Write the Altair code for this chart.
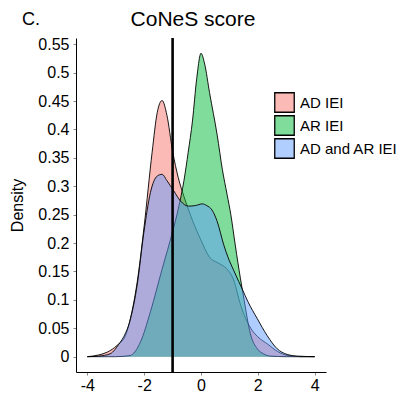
import altair as alt
import pandas as pd

FONT = "Liberation Sans"

groups = ["AD IEI", "AR IEI", "AD and AR IEI"]
base_colors = ["#F8766D", "#00BA38", "#619CFF"]
legend_colors = ["#FBBAB6", "#7FDC9B", "#B0CEFF"]

ad_x = [-4.0, -3.6, -3.3, -2.95, -2.66, -2.48, -2.25, -2.0, -1.72, -1.54, -1.37, -1.2, -1.0, -0.8, -0.6, -0.3, 0.0, 0.3, 0.6, 0.9, 1.15, 1.4, 1.75, 2.0, 2.35, 2.7, 3.05, 3.5, 4.0]
ad_y = [0.0, 0.003, 0.008, 0.02, 0.037, 0.068, 0.13, 0.23, 0.36, 0.43, 0.451, 0.425, 0.362, 0.315, 0.282, 0.24, 0.205, 0.175, 0.165, 0.155, 0.135, 0.09, 0.05, 0.035, 0.022, 0.009, 0.002, 0.0, 0.0]

ar_x = [-4.0, -3.0, -2.5, -2.13, -1.78, -1.37, -1.0, -0.8, -0.6, -0.45, -0.3, -0.15, 0.0, 0.13, 0.3, 0.57, 0.75, 0.92, 1.05, 1.21, 1.39, 1.5, 1.74, 1.98, 2.2, 2.45, 3.0, 4.0]
ar_y = [0.0, 0.0, 0.002, 0.026, 0.079, 0.154, 0.22, 0.26, 0.31, 0.36, 0.415, 0.49, 0.534, 0.515, 0.465, 0.39, 0.33, 0.285, 0.25, 0.195, 0.137, 0.105, 0.04, 0.014, 0.005, 0.001, 0.0, 0.0]

both_x = [-4.0, -3.6, -3.2, -2.85, -2.72, -2.48, -2.25, -2.01, -1.78, -1.54, -1.37, -1.2, -0.96, -0.72, -0.44, -0.2, 0.05, 0.2, 0.39, 0.57, 0.8, 0.95, 1.15, 1.33, 1.46, 1.65, 1.98, 2.33, 2.68, 3.03, 3.4, 4.0]
both_y = [0.0, 0.001, 0.005, 0.025, 0.035, 0.067, 0.125, 0.219, 0.289, 0.318, 0.321, 0.31, 0.292, 0.274, 0.265, 0.266, 0.269, 0.266, 0.258, 0.238, 0.197, 0.175, 0.152, 0.132, 0.118, 0.097, 0.067, 0.037, 0.014, 0.004, 0.001, 0.0]

x_ticks = [-4, -2, 0, 2, 4]
y_ticks = [0, 0.05, 0.1, 0.15, 0.2, 0.25, 0.3, 0.35, 0.4, 0.45, 0.5, 0.55]
cutoff = [-1]
title_text = "CoNeS score"
panel_label = "C."

rows = []
for g, xs, ys in zip(groups, [ad_x, ar_x, both_x], [ad_y, ar_y, both_y]):
    for xv, yv in zip(xs, ys):
        rows.append({"group": g, "x": xv, "density": yv})
df = pd.DataFrame(rows)

X = alt.X("x:Q", scale=alt.Scale(domain=[-4.4, 4.4], nice=False, zero=False),
          axis=alt.Axis(values=x_ticks, title=None, labelExpr="'' + datum.value",
                        labelFontSize=16, labelFont=FONT, labelColor="black",
                        tickSize=3, tickColor="#888888", labelPadding=2,
                        labelOverlap=False,
                        domainColor="black", domainWidth=1, grid=False))
Y = alt.Y("density:Q", scale=alt.Scale(domain=[-0.027, 0.561], nice=False, zero=False),
          axis=alt.Axis(values=y_ticks, title="Density", labelExpr="'' + datum.value",
                        labelFontSize=16, labelFont=FONT, labelColor="black",
                        labelOverlap=False,
                        titleFontSize=16, titleFont=FONT, titleFontWeight="normal",
                        titleColor="black", titlePadding=12,
                        tickSize=3, tickColor="#888888", labelPadding=4,
                        domainColor="black", domainWidth=1, grid=False))

base = alt.Chart(df)
layers = []
for g, c in zip(groups, base_colors):
    sub = base.transform_filter(alt.datum.group == g)
    layers.append(sub.mark_area(color=c, opacity=0.5, interpolate="monotone").encode(
        x=X, y=Y, y2=alt.datum(0)))
    layers.append(sub.mark_line(color="black", strokeWidth=0.9, interpolate="monotone").encode(
        x=X, y=Y))

rule = alt.Chart(pd.DataFrame({"x": cutoff})).mark_rule(color="black", strokeWidth=2.6).encode(
    x=X)

legend_layer = alt.Chart(pd.DataFrame({"group": groups})).mark_rect().encode(
    x=alt.value(0), x2=alt.value(0), y=alt.value(0), y2=alt.value(0),
    color=alt.Color("group:N", sort=groups,
                    scale=alt.Scale(domain=groups, range=legend_colors),
                    legend=alt.Legend(title=None, orient="none", legendX=198, legendY=54,
                                      symbolType="square", symbolSize=380,
                                      symbolStrokeColor="black", symbolStrokeWidth=1.3,
                                      labelFontSize=15, labelFont=FONT, labelColor="black",
                                      labelOffset=5, rowPadding=-4.5, padding=0)))

title_layer = alt.Chart(pd.DataFrame({"t": [title_text]})).mark_text(
    align="center", baseline="alphabetic", fontSize=21, font=FONT, color="black").encode(
    text="t:N", x=alt.value(117), y=alt.value(-12))

label = alt.Chart(pd.DataFrame({"t": [panel_label]})).mark_text(
    align="left", baseline="alphabetic", fontSize=18, font=FONT, color="black").encode(
    text="t:N", x=alt.value(-54), y=alt.value(-13))

chart = alt.layer(*layers, rule, legend_layer, title_layer, label).properties(
    width=250, height=334,
    padding={"left": 68, "top": 30, "right": 72, "bottom": 22},
    autosize=alt.AutoSizeParams(type="none"),
).configure_view(stroke=None)

chart.save("out.html", embed_options={"renderer": "svg", "actions": False})
